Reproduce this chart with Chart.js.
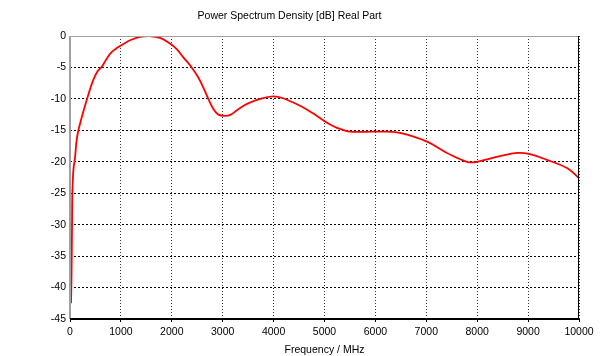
<!DOCTYPE html>
<html>
<head>
<meta charset="utf-8">
<script src="https://cdn.jsdelivr.net/npm/chart.js@4"></script>
<style>
html,body{margin:0;padding:0;background:#fff;}
#wrap{width:600px;height:356px;}
</style>
</head>
<body>
<div id="wrap"><canvas id="c" width="600" height="356"></canvas></div>
<script>
const chartTitle = "Power Spectrum Density [dB] Real Part";
const xAxisTitle = "Frequency / MHz";
const frequencies = [20, 30, 40, 45, 55, 70, 98, 131, 170, 222, 288, 354, 452, 550, 615, 714, 812, 943, 1041, 1205, 1402, 1533, 1768, 1965, 2096, 2227, 2391, 2521, 2620, 2718, 2816, 2914, 3050, 3160, 3280, 3477, 3733, 3988, 4185, 4519, 4774, 5049, 5245, 5501, 6031, 6483, 7014, 7407, 7800, 7996, 8448, 8782, 9037, 9371, 9764, 10000];
const psdValues = [-42.5, -38, -30, -25.5, -23, -21, -19.4, -16.5, -14.8, -13.2, -11.3, -9.5, -7.1, -5.5, -5.0, -3.7, -2.6, -1.8, -1.3, -0.6, -0.1, 0, -0.3, -1.2, -2.1, -3.4, -5.0, -6.6, -8.2, -10.0, -11.6, -12.5, -12.7, -12.5, -11.8, -10.8, -10.0, -9.6, -9.9, -11.1, -12.3, -13.8, -14.6, -15.2, -15.2, -15.4, -16.8, -18.6, -20.0, -20.0, -19.1, -18.6, -18.8, -19.7, -21.0, -22.6];
const xTicks = [0, 1000, 2000, 3000, 4000, 5000, 6000, 7000, 8000, 9000, 10000];
const yTicks = [0, -5, -10, -15, -20, -25, -30, -35, -40, -45];

const points = frequencies.map((f, i) => ({x: f, y: psdValues[i]}));
const fam = "'Liberation Sans', Arial, sans-serif";
const tickFont = {family: fam, size: 10.5};

const frame = {
  id: 'frame',
  afterDatasetsDraw(chart) {
    const {ctx, chartArea: a} = chart;
    ctx.save();
    ctx.lineWidth = 1;
    ctx.strokeStyle = '#a0a0a0';
    ctx.beginPath(); ctx.moveTo(a.left, a.top + 0.5); ctx.lineTo(a.right, a.top + 0.5); ctx.stroke();
    ctx.lineWidth = 2;
    ctx.beginPath(); ctx.moveTo(a.left, a.top); ctx.lineTo(a.left, a.bottom); ctx.stroke();
    ctx.strokeStyle = '#000';
    ctx.lineWidth = 1;
    ctx.beginPath(); ctx.moveTo(a.right - 0.5, a.top); ctx.lineTo(a.right - 0.5, a.bottom); ctx.stroke();
    ctx.lineWidth = 2;
    ctx.beginPath(); ctx.moveTo(a.left, a.bottom); ctx.lineTo(a.right, a.bottom); ctx.stroke();
    ctx.restore();
  }
};

new Chart(document.getElementById('c'), {
  type: 'line',
  data: {
    datasets: [{
      data: points,
      borderColor: '#ff0000',
      borderWidth: 1.8,
      pointRadius: 0,
      fill: false,
      tension: 0.4
    }]
  },
  options: {
    responsive: false,
    animation: false,
    devicePixelRatio: 1,
    layout: {padding: {left: 0, right: 21, top: 0, bottom: 0}},
    plugins: {
      legend: {display: false},
      tooltip: {enabled: false},
      title: {
        display: true,
        text: chartTitle,
        color: '#000',
        font: {family: fam, size: 10.5, weight: 'normal'},
        padding: {top: 10, bottom: 13.4}
      }
    },
    scales: {
      x: {
        type: 'linear',
        min: 0, max: 10000,
        afterBuildTicks: s => { s.ticks = xTicks.map(v => ({value: v})); },
        afterFit: s => { s.height = 37; },
        ticks: {color: '#000', font: tickFont, maxRotation: 0, padding: 4,
                callback: v => String(v)},
        grid: {color: '#333', lineWidth: 1, drawTicks: true, tickLength: 3, tickColor: '#000'},
        border: {display: false, dash: [1, 2]},
        title: {display: true, text: xAxisTitle, color: '#000', font: tickFont, padding: {top: 1, bottom: 0}}
      },
      y: {
        type: 'linear',
        min: -45, max: 0,
        afterBuildTicks: s => { s.ticks = yTicks.map(v => ({value: v})); },
        afterFit: s => { s.width = 70; },
        ticks: {color: '#000', font: tickFont, padding: 4, callback: v => String(v)},
        grid: {color: '#000', lineWidth: 1, drawTicks: false},
        border: {display: false, dash: [2, 2]}
      }
    }
  },
  plugins: [frame]
});
</script>
</body>
</html>
